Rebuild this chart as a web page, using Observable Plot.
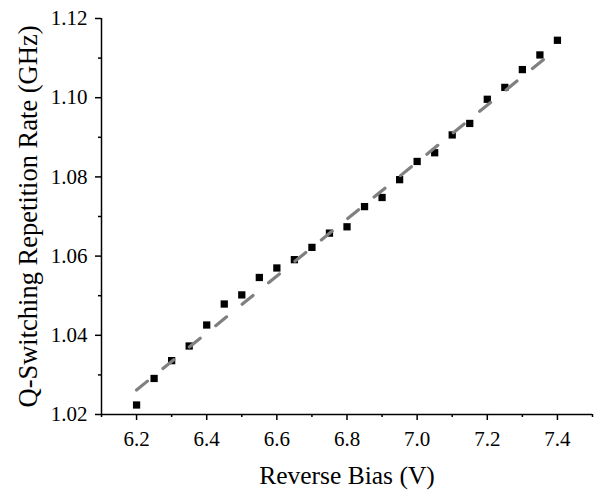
<!DOCTYPE html>
<html>
<head>
<meta charset="utf-8">
<script src="https://cdn.jsdelivr.net/npm/d3@7"></script>
<script src="https://cdn.jsdelivr.net/npm/@observablehq/plot@0.6"></script>
<style>
  html, body { margin: 0; padding: 0; background: #fff; }
  svg text { font-family: 'Liberation Serif', 'Times New Roman', serif !important; }
</style>
</head>
<body>
<div id="chart"></div>
<script>
const biasV = [6.2, 6.25, 6.3, 6.35, 6.4, 6.45, 6.5, 6.55, 6.6, 6.65, 6.7, 6.75, 6.8, 6.85, 6.9, 6.95, 7.0, 7.05, 7.1, 7.15, 7.2, 7.25, 7.3, 7.35, 7.4];
const rateGHz = [1.0224, 1.0291, 1.0336, 1.0373, 1.0426, 1.0479, 1.0502, 1.0546, 1.0570, 1.0591, 1.0622, 1.0658, 1.0674, 1.0725, 1.0748, 1.0793, 1.0839, 1.0861, 1.0906, 1.0935, 1.0996, 1.1026, 1.1071, 1.1108, 1.1145];
const fitX = [6.2, 7.4];
const fitY = [1.0262, 1.1125];
const xTicks = [6.2, 6.4, 6.6, 6.8, 7.0, 7.2, 7.4];
const xMinorTicks = [6.1, 6.3, 6.5, 6.7, 6.9, 7.1, 7.3, 7.5];
const yTicks = [1.02, 1.04, 1.06, 1.08, 1.10, 1.12];
const yMinorTicks = [1.03, 1.05, 1.07, 1.09, 1.11];
const xLabel = "Reverse Bias (V)";
const yLabel = "Q-Switching Repetition Rate (GHz)";

const points = biasV.map((x, i) => ({x, y: rateGHz[i]}));
const fit = fitX.map((x, i) => ({x, y: fitY[i]}));
const serif = "'Liberation Serif', 'Times New Roman', serif";

const chart = Plot.plot({
  width: 602,
  height: 491,
  marginLeft: 101,
  marginRight: 10,
  marginTop: 18,
  marginBottom: 77,
  x: {domain: [6.1, 7.5]},
  y: {domain: [1.02, 1.12]},
  style: {fontFamily: serif, background: "#fff", color: "#000"},
  marks: [
    Plot.dot(points, {x: "x", y: "y", symbol: "square", fill: "#000", r: 4.1}),
    Plot.line(fit, {x: "x", y: "y", stroke: "#808080", strokeWidth: 3.2, strokeDasharray: "14,20", strokeLinecap: "round"}),
    Plot.ruleY([1.02], {stroke: "#000", strokeWidth: 1.5}),
    Plot.ruleX([6.1], {stroke: "#000", strokeWidth: 1.5}),
    Plot.axisX(xTicks, {tickSize: 6, tickPadding: 11, fontSize: 21, fontFamily: serif, fontVariant: "normal", tickFormat: d3.format(".1f"), label: null, strokeWidth: 1.5}),
    Plot.axisX(xMinorTicks, {tickSize: 3, tickFormat: () => "", label: null, strokeWidth: 1.5}),
    Plot.axisY(yTicks, {tickSize: 6, tickPadding: 8, fontSize: 21, fontFamily: serif, fontVariant: "normal", tickFormat: d3.format(".2f"), label: null, strokeWidth: 1.5}),
    Plot.axisY(yMinorTicks, {tickSize: 3, tickFormat: () => "", label: null, strokeWidth: 1.5}),
    Plot.text([xLabel], {text: d => d, frameAnchor: "bottom", dy: 69, lineAnchor: "bottom", fontSize: 25.5, fontFamily: serif, fill: "#000"}),
    Plot.text([yLabel], {text: d => d, frameAnchor: "left", textAnchor: "middle", dx: -65, rotate: -90, lineAnchor: "bottom", fontSize: 26.5, fontFamily: serif, fill: "#000"})
  ]
});
document.getElementById("chart").appendChild(chart);
</script>
</body>
</html>
